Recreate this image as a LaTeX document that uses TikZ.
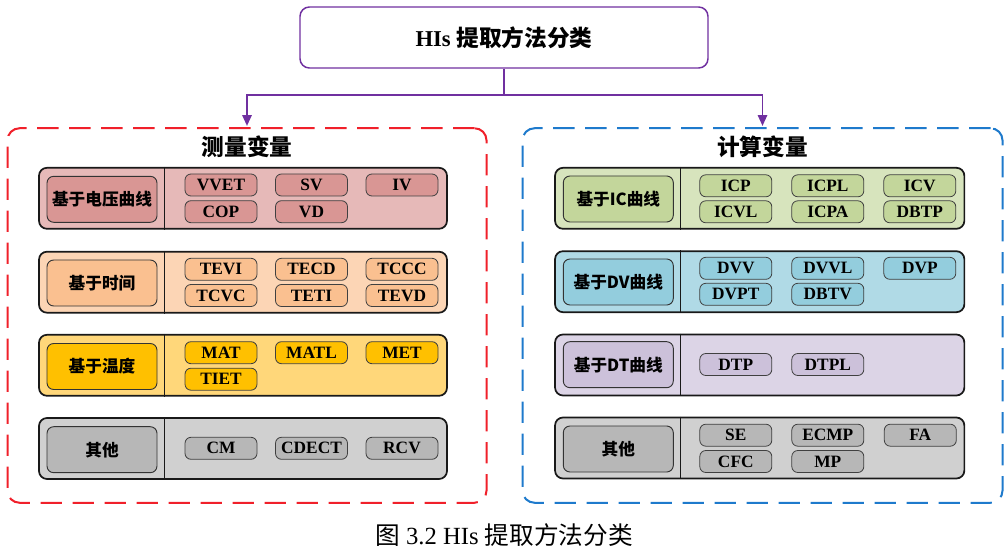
\documentclass[tikz,border=0pt]{standalone}
\usepackage{fontspec}
\setmainfont{Liberation Serif}
\newfontfamily\cjk{Noto Sans CJK SC}
\usetikzlibrary{arrows.meta}
\definecolor{purp}{HTML}{7030A0}
\definecolor{dred}{HTML}{F0202A}
\definecolor{dblue}{HTML}{1E7ACC}
\definecolor{aO}{HTML}{E6B9B8}\definecolor{aI}{HTML}{D99694}
\definecolor{bO}{HTML}{FCD5B5}\definecolor{bI}{HTML}{FAC090}
\definecolor{cO}{HTML}{FFD77A}\definecolor{cI}{HTML}{FFC000}
\definecolor{gO}{HTML}{D0D0D0}\definecolor{gI}{HTML}{B7B7B7}
\definecolor{eO}{HTML}{D7E4BD}\definecolor{eI}{HTML}{C3D69B}
\definecolor{fO}{HTML}{B0DAE6}\definecolor{fI}{HTML}{93CDDD}
\definecolor{hO}{HTML}{DCD4E6}\definecolor{hI}{HTML}{CCC1DA}
\begin{document}
\begin{tikzpicture}[x=0.75pt,y=-0.75pt,
  rowbox/.style={draw=black!90, line width=1.3pt, rounded corners=6pt, minimum width=306pt, minimum height=45.75pt, inner sep=0pt},
  labbox/.style={draw=black!80, line width=0.7pt, rounded corners=5pt, minimum width=82.5pt, minimum height=34.5pt, inner sep=0pt, font=\cjk\bfseries\fontsize{12.5}{13}\selectfont},
  pill/.style={draw=black!75, line width=0.6pt, rounded corners=4.5pt, minimum width=54pt, minimum height=16.5pt, inner sep=0pt, font=\bfseries\fontsize{13}{13}\selectfont},
  divline/.style={draw=black!90, line width=1pt},
  dashbox/.style={line width=1.5pt, rounded corners=9pt, dash pattern=on 16pt off 8pt, inner sep=0pt},
  conn/.style={draw=purp, line width=1.1pt, -{Triangle[length=8pt,width=7pt]}},
  ttl/.style={font=\cjk\bfseries\fontsize{17}{17}\selectfont}
]
\useasboundingbox (0,0) rectangle (1006,552);

% top
\node[draw=purp, line width=1.1pt, rounded corners=7pt, minimum width=306pt, minimum height=45.75pt, inner sep=0pt] (top) at (504,37.5)
  {\bfseries\fontsize{17}{17}\selectfont HIs {\cjk\bfseries 提取方法分类}};

% dashed groups
\node[dashbox, draw=dred, minimum width=359.25pt, minimum height=280.9pt] (ml) at (247,315.5) {};
\node[dashbox, draw=dblue, minimum width=360pt, minimum height=280.9pt] (mr) at (762.5,315.5) {};
\node[ttl] (tl) at (247,147) {测量变量};
\node[ttl] (tr) at (762.5,147) {计算变量};

\coordinate (j) at (504,95);
\draw[conn] (top.south) -- (top.south |- j) -| ([yshift=1pt]ml.north);
\draw[conn] (top.south |- j) -| ([yshift=1pt]mr.north);

% ---------- left ----------
\coordinate (dl) at (164.5,0);
\node[rowbox, fill=aO] (l1) at (243,198.3) {};
\node[rowbox, fill=bO] (l2) at (243,282.2) {};
\node[rowbox, fill=cO] (l3) at (243,365.3) {};
\node[rowbox, fill=gO] (l4) at (243,448.5) {};
\foreach \r in {l1,l2,l3,l4} \draw[divline] (dl |- \r.north) -- (dl |- \r.south);

\node[labbox, fill=aI] (l1t) at (102,199.3) {基于电压曲线};
\node[labbox, fill=bI] (l2t) at (102,283) {基于时间};
\node[labbox, fill=cI] (l3t) at (102,366.5) {基于温度};
\node[labbox, fill=gI] (l4t) at (102,449.7) {其他};

\node[pill, fill=aI] (p11) at (221,185) {VVET};
\node[pill, fill=aI] (p12) at (311.5,185) {SV};
\node[pill, fill=aI] (p13) at (402,185) {IV};
\node[pill, fill=aI] (p14) at (221,211.7) {COP};
\node[pill, fill=aI] (p15) at (311.5,211.7) {VD};

\node[pill, fill=bI] (p21) at (221,269.3) {TEVI};
\node[pill, fill=bI] (p22) at (311.5,269.3) {TECD};
\node[pill, fill=bI] (p23) at (402,269.3) {TCCC};
\node[pill, fill=bI] (p24) at (221,295.5) {TCVC};
\node[pill, fill=bI] (p25) at (311.5,295.5) {TETI};
\node[pill, fill=bI] (p26) at (402,295.5) {TEVD};

\node[pill, fill=cI] (p31) at (221,352.7) {MAT};
\node[pill, fill=cI] (p32) at (311.5,352.7) {MATL};
\node[pill, fill=cI] (p33) at (402,352.7) {MET};
\node[pill, fill=cI] (p34) at (221,379.2) {TIET};

\node[pill, fill=gI] (p41) at (221,448.3) {CM};
\node[pill, fill=gI] (p42) at (311.5,448.3) {CDECT};
\node[pill, fill=gI] (p43) at (402,448.3) {RCV};

% ---------- right ----------
\coordinate (dr) at (680.7,0);
\node[rowbox, fill=eO, minimum width=307pt] (r1) at (759.7,198.3) {};
\node[rowbox, fill=fO, minimum width=307pt] (r2) at (759.7,281.7) {};
\node[rowbox, fill=hO, minimum width=307pt] (r3) at (759.7,365) {};
\node[rowbox, fill=gO, minimum width=307pt] (r4) at (759.7,448) {};
\foreach \r in {r1,r2,r3,r4} \draw[divline] (dr |- \r.north) -- (dr |- \r.south);

\node[labbox, fill=eI] (r1t) at (618.3,199) {基于IC曲线};
\node[labbox, fill=fI] (r2t) at (618.3,282) {基于DV曲线};
\node[labbox, fill=hI] (r3t) at (618.3,364.7) {基于DT曲线};
\node[labbox, fill=gI] (r4t) at (618.3,449) {其他};

\node[pill, fill=eI] (q11) at (735.8,185.8) {ICP};
\node[pill, fill=eI] (q12) at (827.8,185.8) {ICPL};
\node[pill, fill=eI] (q13) at (919.8,185.8) {ICV};
\node[pill, fill=eI] (q14) at (735.8,211.8) {ICVL};
\node[pill, fill=eI] (q15) at (827.8,211.8) {ICPA};
\node[pill, fill=eI] (q16) at (919.8,211.8) {DBTP};

\node[pill, fill=fI] (q21) at (735.8,268.3) {DVV};
\node[pill, fill=fI] (q22) at (827.8,268.3) {DVVL};
\node[pill, fill=fI] (q23) at (919.8,268.3) {DVP};
\node[pill, fill=fI] (q24) at (735.8,294.3) {DVPT};
\node[pill, fill=fI] (q25) at (827.8,294.3) {DBTV};

\node[pill, fill=hI] (q31) at (735.8,364.5) {DTP};
\node[pill, fill=hI] (q32) at (827.8,364.5) {DTPL};

\node[pill, fill=gI] (q41) at (735.8,435.2) {SE};
\node[pill, fill=gI] (q42) at (827.8,435.2) {ECMP};
\node[pill, fill=gI] (q43) at (920.3,435.2) {FA};
\node[pill, fill=gI] (q44) at (735.8,461.5) {CFC};
\node[pill, fill=gI] (q45) at (827.8,461.5) {MP};

% caption
\node[font=\fontsize{18.5}{18.5}\selectfont] (cap) at (504,535) {{\cjk 图} 3.2 HIs {\cjk 提取方法分类}};
\end{tikzpicture}
\end{document}
